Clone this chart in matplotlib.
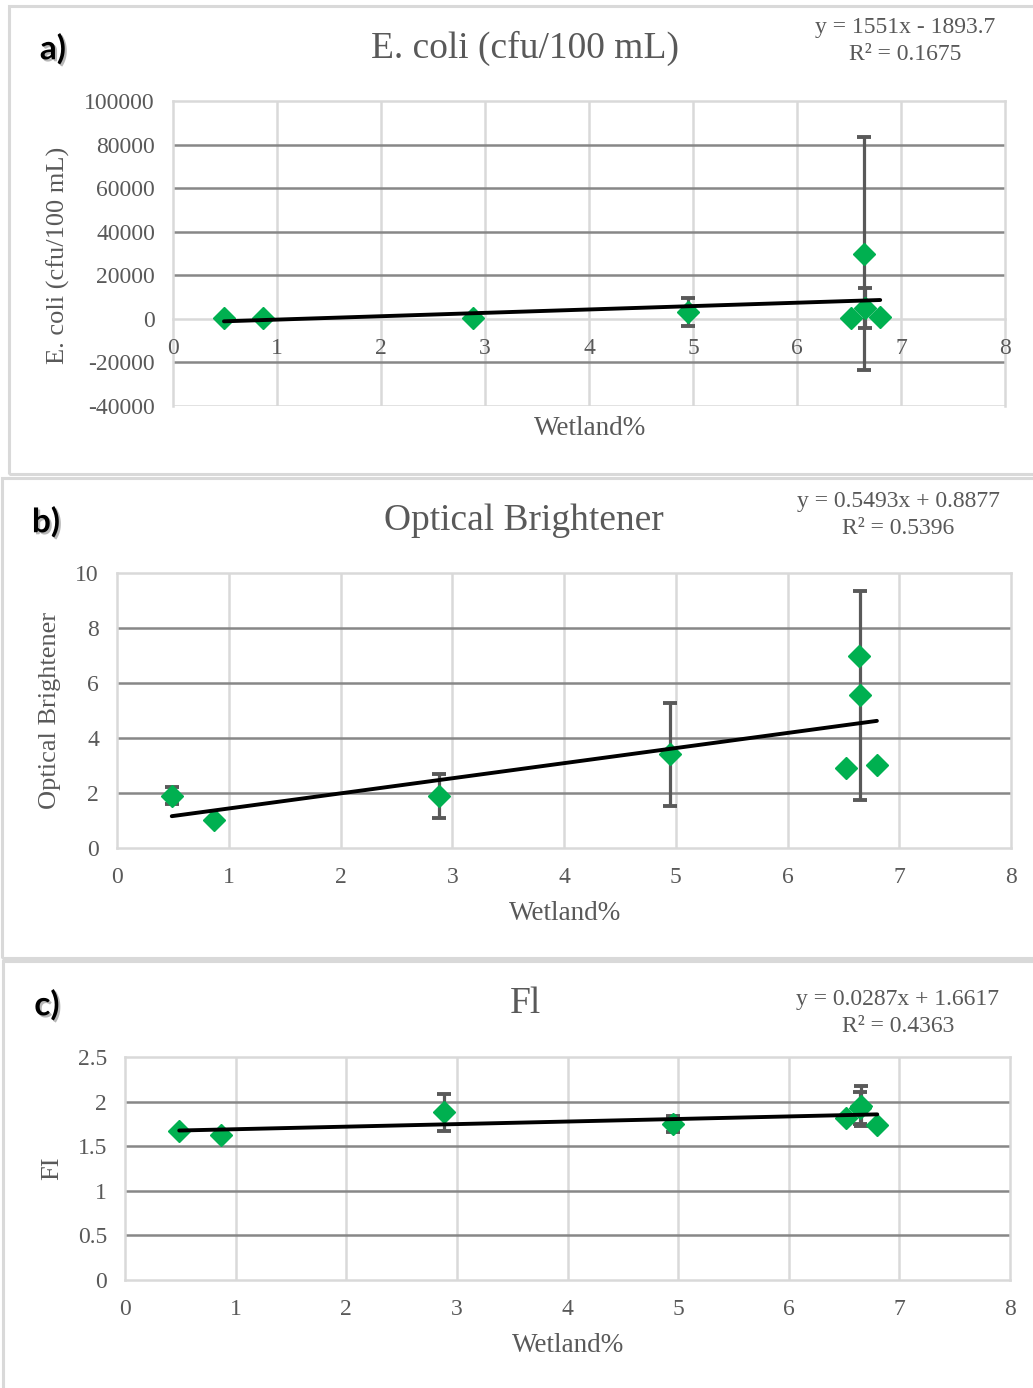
import matplotlib
matplotlib.use('Agg')
import matplotlib.pyplot as plt
import matplotlib.patheffects as pe
from matplotlib.patches import Rectangle
import numpy as np

# ---------------- data ----------------
wetland = [0.49, 0.87, 2.88, 4.95, 6.52, 6.64, 6.65, 6.80]

ecoli = [300, 300, 200, 3000, 200, 30000, 5000, 1000]
ecoli_err = [0, 0, 0, 6500, 0, 53500, 9200, 0]
ecoli_fit = (1551, -1893.7)
ecoli_eq = ["y = 1551x - 1893.7", "R² = 0.1675"]

ob = [1.9, 1.0, 1.9, 3.4, 2.9, 7.0, 5.55, 3.0]
ob_err = [0.3, 0, 0.8, 1.87, 0, 0, 3.8, 0]
ob_fit = (0.5493, 0.8877)
ob_eq = ["y = 0.5493x + 0.8877", "R² = 0.5396"]

fi = [1.67, 1.625, 1.88, 1.75, 1.82, 1.93, 1.95, 1.74]
fi_err = [0, 0, 0.21, 0.09, 0, 0.18, 0.22, 0]
fi_fit = (0.0287, 1.6617)
fi_eq = ["y = 0.0287x + 1.6617", "R² = 0.4363"]

x_ticks = [0, 1, 2, 3, 4, 5, 6, 7, 8]
ecoli_ticks = [-40000, -20000, 0, 20000, 40000, 60000, 80000, 100000]
ob_ticks = [0, 2, 4, 6, 8, 10]
fi_ticks = [0, 0.5, 1, 1.5, 2, 2.5]
fi_ticklabels = ["0", "0.5", "1", "1.5", "2", "2.5"]

# ---------------- styling ----------------
W, H = 1033, 1388
SERIF = ['Liberation Serif', 'DejaVu Serif']
plt.rcParams['font.family'] = SERIF
TXT = '#595959'
LIGHT = '#D9D9D9'
DARK = '#878787'
GREEN = '#00B050'
ERR = '#595959'

fig = plt.figure(figsize=(W / 100, H / 100), dpi=100)
fig.patch.set_facecolor('white')


def fx(x):
    return x / W


def fy(y):
    return 1 - y / H


def add_axes_px(l, t, r, b):
    return fig.add_axes([fx(l), fy(b), (r - l) / W, (b - t) / H])


def panel_box(x0, y0, x1, y1):
    fig.add_artist(Rectangle((fx(x0), fy(y1)), (x1 - x0) / W, (y1 - y0) / H,
                             transform=fig.transFigure, fill=False,
                             ec=LIGHT, lw=2.2, zorder=0))


def ftext(x, y, s, size, color=TXT, ha='center', rot=0, family=SERIF, **kw):
    fig.text(fx(x), fy(y), s, fontsize=size, color=color, ha=ha, va='center',
             rotation=rot, family=family, **kw)


def draw_panel(box, axrect, yvals, yerr, fit, eq, yticks, yticklabels, ylim,
               title, tpos, label, lpos, ylab, ylpos, xlpos, eqpos, xaxis_at0=False):
    panel_box(*box)
    ax = add_axes_px(*axrect)
    ax.set_xlim(0, 8)
    ax.set_ylim(*ylim)
    if xaxis_at0:
        ax.spines['bottom'].set_position(('data', 0))
        ax.axhline(ylim[0], color=LIGHT, lw=1.8, zorder=0.6)
    ax.set_xticks(x_ticks)
    ax.set_xticklabels([str(t) for t in x_ticks])
    ax.set_yticks(yticks)
    ax.set_yticklabels(yticklabels)
    ax.tick_params(length=0, labelsize=17, labelcolor=TXT)
    ax.tick_params(axis='y', pad=13)
    ax.tick_params(axis='x', pad=14)
    for s in ax.spines.values():
        s.set_color(LIGHT)
        s.set_linewidth(1.8)
        s.set_zorder(0.7)
    # vertical gridlines light
    for xt in x_ticks[1:-1]:
        ax.axvline(xt, color=LIGHT, lw=1.8, zorder=0.5)
    # horizontal gridlines dark
    for yt in yticks:
        if yt in (ylim[0], ylim[1]):
            continue
        if xaxis_at0 and yt == 0:
            continue
        ax.axhline(yt, color=DARK, lw=1.8, zorder=0.6)
    # error bars
    xs = np.array(wetland)
    ys = np.array(yvals)
    es = np.array(yerr)
    m = es > 0
    ax.errorbar(xs[m], ys[m], yerr=es[m], fmt='none', ecolor=ERR,
                elinewidth=2.3, capsize=5, capthick=2.8, zorder=2)
    ax.plot(xs, ys, linestyle='none', marker='D', ms=11.5, color=GREEN,
            mec=GREEN, zorder=3)
    # trendline
    a, b = fit
    xl = np.array([xs.min(), xs.max()])
    ax.plot(xl, a * xl + b, color='black', lw=2.8, zorder=4,
            solid_capstyle='round')
    # texts
    ftext(tpos[0], tpos[1], title, 27)
    ftext(lpos[0], lpos[1], label, 24, color='black', family=['Lato', 'DejaVu Sans'],
          fontweight='bold',
          path_effects=[pe.withSimplePatchShadow(offset=(1.5, -1.5),
                                                 shadow_rgbFace='#888888', alpha=0.6)])
    ftext(ylpos[0], ylpos[1], ylab, 19, rot=90)
    ftext(xlpos[0], xlpos[1], "Wetland%", 19.5)
    ftext(eqpos[0], eqpos[1], eq[0], 17)
    ftext(eqpos[0], eqpos[1] + 27, eq[1], 17)
    return ax


draw_panel(box=(9, 6, 1045, 474), axrect=(173, 101, 1005, 406),
           yvals=ecoli, yerr=ecoli_err, fit=ecoli_fit, eq=ecoli_eq,
           yticks=ecoli_ticks, yticklabels=[str(t) for t in ecoli_ticks],
           ylim=(-40000, 100000), title="E. coli (cfu/100 mL)", tpos=(525, 48),
           label="a)", lpos=(53, 49), ylab="E. coli (cfu/100 mL)", ylpos=(58, 255),
           xlpos=(590, 428), eqpos=(905, 28), xaxis_at0=True)

draw_panel(box=(2, 478, 1045, 958), axrect=(117, 573, 1011, 848),
           yvals=ob, yerr=ob_err, fit=ob_fit, eq=ob_eq,
           yticks=ob_ticks, yticklabels=[str(t) for t in ob_ticks],
           ylim=(0, 10), title="Optical Brightener", tpos=(524, 521),
           label="b)", lpos=(46, 522), ylab="Optical Brightener", ylpos=(50, 710),
           xlpos=(565, 913), eqpos=(898, 501))

draw_panel(box=(3, 961, 1045, 1400), axrect=(125, 1057, 1010, 1280),
           yvals=fi, yerr=fi_err, fit=fi_fit, eq=fi_eq,
           yticks=fi_ticks, yticklabels=fi_ticklabels,
           ylim=(0, 2.5), title="Fl", tpos=(525, 1004),
           label="c)", lpos=(47, 1005), ylab="FI", ylpos=(52, 1168),
           xlpos=(568, 1345), eqpos=(898, 999))

fig.savefig('out.png', dpi=100)
